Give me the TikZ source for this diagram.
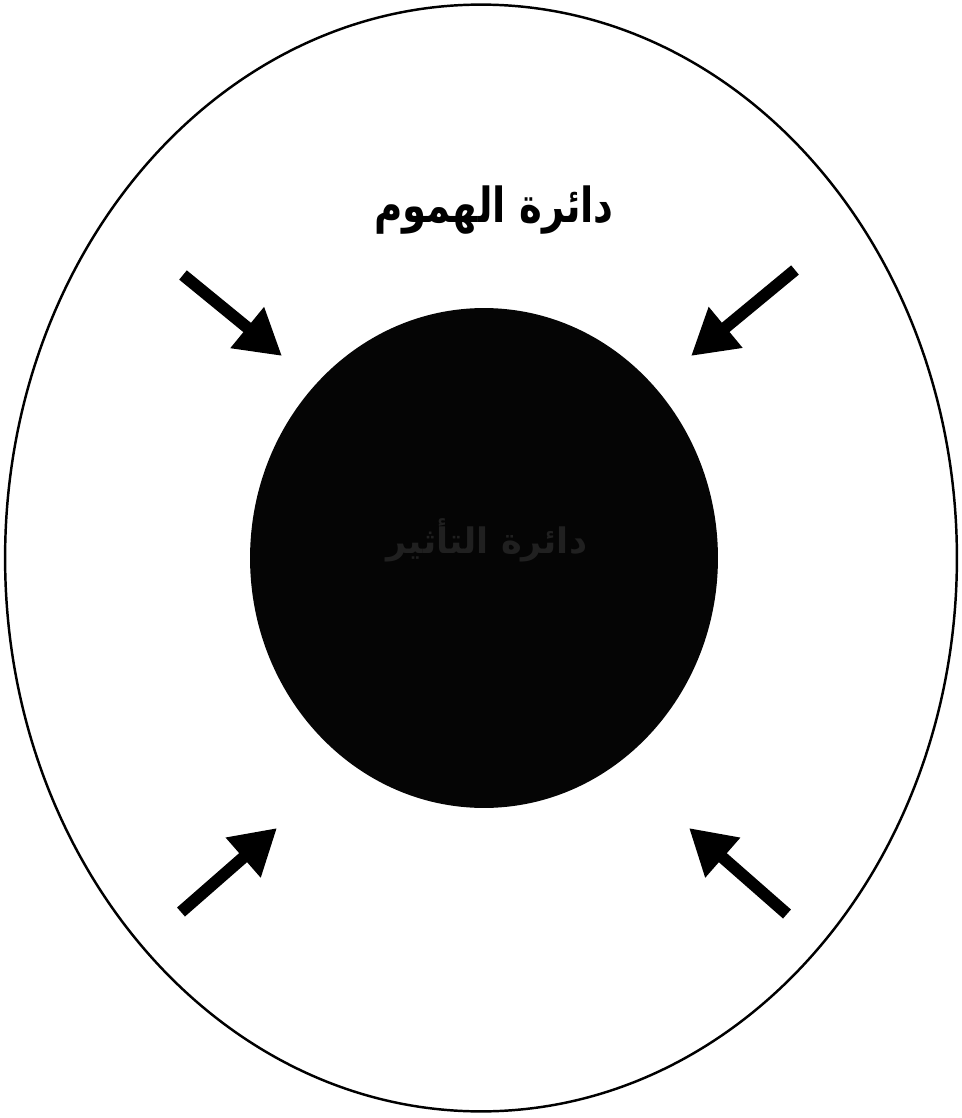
\documentclass[tikz,border=0pt]{standalone}
\usepackage{fontspec}
\usepackage{tikz}
\usetikzlibrary{arrows.meta,shapes.geometric}
\TeXXeTstate=1
\newfontfamily\arabicfont[Script=Arabic]{DejaVu Sans}
\definecolor{inkdark}{RGB}{5,5,5}
\definecolor{faintgray}{RGB}{32,32,32}
\tikzset{
  pusharrow/.style={line width=0.24cm,-{Triangle[length=0.9cm,width=1.0cm]}},
}
\begin{document}
\begin{tikzpicture}[x=0.02cm,y=-0.02cm]
  \useasboundingbox (0,0) rectangle (962,1118);
  \node[draw,line width=1.4pt,ellipse,inner sep=0pt,minimum width=19.04cm,minimum height=22.14cm] (worry) at (481,558) {};
  \node[fill=inkdark,ellipse,inner sep=0pt,minimum width=9.36cm,minimum height=10cm] (core) at (484,558) {};
  \node[text=faintgray,font=\arabicfont\bfseries\fontsize{20}{24}\selectfont] (influence) at (487,540) {\beginR دائرة التأثير\endR};
  \node[font=\arabicfont\bfseries\fontsize{22}{28}\selectfont,yscale=1.25,transform shape] (worrylabel) at (494,210) {\beginR دائرة الهموم\endR};
  \coordinate (tl1) at (183,275); \coordinate (tl2) at (282,356);
  \coordinate (tr1) at (795,270); \coordinate (tr2) at (691,356);
  \coordinate (bl1) at (181,912); \coordinate (bl2) at (277,828);
  \coordinate (br1) at (787,914); \coordinate (br2) at (689,828);
  \foreach \a in {tl,tr,bl,br}
    \draw[pusharrow] (\a1) -- (\a2);
\end{tikzpicture}
\end{document}
